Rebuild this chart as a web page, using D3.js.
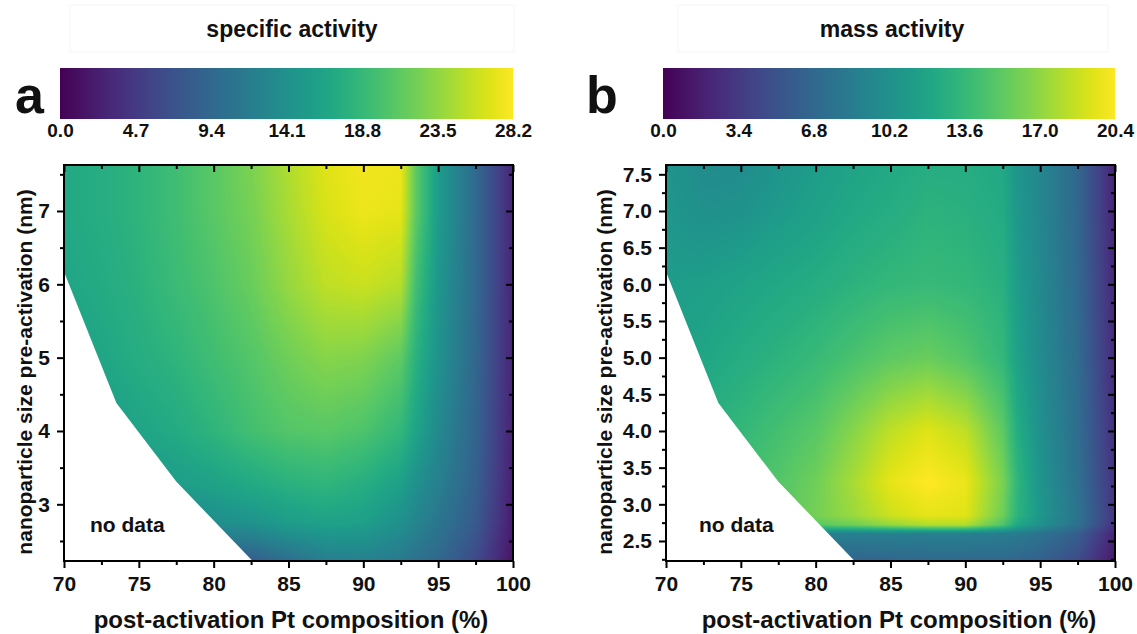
<!DOCTYPE html>
<html><head><meta charset="utf-8">
<script src="https://cdn.jsdelivr.net/npm/d3@7"></script>
<style>
body{margin:0;background:#fff;}
svg text{font-family:"Liberation Sans", Arial, sans-serif;font-weight:bold;fill:#111;}
.tick text{font-size:21px;}
.cb .tick text{font-size:19px;}
</style></head><body>
<svg id="chart" width="1137" height="634"></svg>
<script>
// ---------- data ----------
const xNodes = [70, 72.5, 75, 77.5, 80, 82.5, 85, 87.5, 90, 92.5, 93.5, 95, 97.5, 100];

const yNodesA = [2.2, 2.75, 3.25, 4, 5, 6, 7, 7.65];
const specificActivity = [
  [6.2, 6.8, 7.3, 7.9, 7.9, 7.9, 9.9, 11.8, 12.1, 11.3, 10.4, 9.3, 6.2, 1.4],
  [10.2, 11.0, 11.8, 12.7, 13.8, 14.4, 15.5, 16.1, 15.8, 14.1, 12.7, 11.0, 7.9, 2.0],
  [11.8, 13.0, 14.7, 15.5, 16.1, 16.9, 17.8, 18.3, 17.5, 15.8, 14.1, 12.1, 8.5, 2.3],
  [14.7, 15.5, 16.4, 17.2, 18.3, 19.7, 20.6, 20.9, 20.3, 18.6, 16.4, 13.3, 9.0, 2.5],
  [16.1, 16.6, 17.5, 18.3, 19.5, 20.6, 22.0, 23.1, 22.8, 21.2, 18.0, 14.4, 9.3, 2.8],
  [16.6, 17.2, 18.0, 19.2, 20.3, 21.7, 23.7, 25.4, 25.9, 25.1, 19.7, 14.9, 9.6, 2.8],
  [16.9, 17.5, 18.3, 19.5, 20.9, 22.3, 24.5, 26.5, 27.4, 27.1, 21.2, 15.5, 9.6, 2.8],
  [16.9, 17.5, 18.3, 19.5, 20.9, 22.6, 24.8, 26.8, 27.6, 27.4, 21.2, 15.5, 9.6, 2.8]
];

const yNodesB = [2.2, 2.6, 2.72, 2.85, 3.3, 4, 5, 6, 7, 7.65];
const massActivity = [
  [6.1, 6.1, 6.1, 6.1, 6.1, 6.3, 6.5, 6.7, 6.7, 6.7, 6.5, 6.1, 4.5, 1.2],
  [8.8, 8.8, 8.8, 8.8, 8.8, 8.8, 8.8, 8.8, 8.8, 8.6, 8.4, 7.7, 6.1, 2.0],
  [12.2, 12.9, 13.5, 14.3, 15.1, 15.9, 17.1, 18.0, 18.0, 14.7, 12.2, 10.2, 7.5, 2.9],
  [12.6, 13.5, 14.3, 15.1, 16.1, 17.3, 18.8, 19.6, 19.4, 15.9, 13.1, 10.8, 7.8, 3.1],
  [12.6, 13.5, 14.3, 14.9, 15.9, 17.7, 19.6, 20.4, 19.8, 16.3, 13.3, 10.6, 7.5, 2.9],
  [12.2, 12.9, 13.5, 14.3, 15.1, 16.7, 18.4, 19.4, 18.4, 15.3, 12.6, 10.2, 7.3, 2.7],
  [11.6, 12.0, 12.6, 13.1, 13.7, 14.5, 15.3, 15.7, 14.9, 13.5, 11.6, 9.8, 7.1, 2.4],
  [11.2, 11.4, 11.8, 12.2, 12.6, 13.1, 13.5, 13.7, 13.5, 12.9, 11.2, 9.6, 6.9, 2.2],
  [10.8, 10.2, 10.4, 11.0, 11.6, 12.2, 12.6, 13.1, 12.9, 12.4, 10.8, 9.4, 6.7, 2.0],
  [10.6, 9.8, 9.8, 10.6, 11.2, 11.8, 12.2, 12.6, 12.6, 12.2, 10.6, 9.4, 6.7, 2.0]
];

const noDataX = [70, 73.5, 77.5, 82.6, 82.6, 70];
const noDataY = [6.17, 4.38, 3.31, 2.227, 2.0, 2.0];

const colorbarTicksA = [0, 4.7, 9.4, 14.1, 18.8, 23.5, 28.2];
const colorbarTicksB = [0, 3.4, 6.8, 10.2, 13.6, 17.0, 20.4];
const xTicks = [70, 75, 80, 85, 90, 95, 100];
const xMinor = [72.5, 77.5, 82.5, 87.5, 92.5, 97.5];
const yTicksA = [3, 4, 5, 6, 7];
const yMinorA = [2.5, 3.5, 4.5, 5.5, 6.5, 7.5];
const yTicksB = [2.5, 3.0, 3.5, 4.0, 4.5, 5.0, 5.5, 6.0, 6.5, 7.0, 7.5];
const yMinorB = [2.25, 2.75, 3.25, 3.75, 4.25, 4.75, 5.25, 5.75, 6.25, 6.75, 7.25];

const panels = [
  {letter: "a", title: "specific activity", grid: specificActivity, yNodes: yNodesA, max: 28.2,
   cbTicks: colorbarTicksA, yTicks: yTicksA, yMinor: yMinorA, yFmt: d3.format("d"),
   x0: 64, x1: 513, cbx0: 60, cbx1: 513, letterX: 15, yTitleX: 32, xTitleX: 291, boxX0: 70, boxX1: 514, titleX: 292, noDataTX: 90},
  {letter: "b", title: "mass activity", grid: massActivity, yNodes: yNodesB, max: 20.4,
   cbTicks: colorbarTicksB, yTicks: yTicksB, yMinor: yMinorB, yFmt: d3.format(".1f"),
   x0: 666, x1: 1115, cbx0: 663, cbx1: 1115, letterX: 586, yTitleX: 612, xTitleX: 899, boxX0: 678, boxX1: 1108, titleX: 892, noDataTX: 699}
];

const Y0 = 165, Y1 = 561;
const yDomain = [2.227, 7.627];
const CB_Y0 = 68, CB_Y1 = 119;

const svg = d3.select("#chart");
const defs = svg.append("defs");

function bilinear(grid, xs, ys, xv, yv) {
  let i = Math.min(Math.max(d3.bisectRight(xs, xv) - 1, 0), xs.length - 2);
  let j = Math.min(Math.max(d3.bisectRight(ys, yv) - 1, 0), ys.length - 2);
  const tx = Math.min(Math.max((xv - xs[i]) / (xs[i + 1] - xs[i]), 0), 1);
  const ty = Math.min(Math.max((yv - ys[j]) / (ys[j + 1] - ys[j]), 0), 1);
  const a = grid[j][i], b = grid[j][i + 1], c = grid[j + 1][i], d = grid[j + 1][i + 1];
  return (a * (1 - tx) + b * tx) * (1 - ty) + (c * (1 - tx) + d * tx) * ty;
}

panels.forEach((p, k) => {
  const x = d3.scaleLinear().domain([70, 100]).range([p.x0, p.x1]);
  const y = d3.scaleLinear().domain(yDomain).range([Y1, Y0]);
  const color = d3.scaleSequential(d3.interpolateViridis).domain([0, p.max]);

  // title box + title
  svg.append("rect").attr("x", p.boxX0).attr("y", 5).attr("width", p.boxX1 - p.boxX0).attr("height", 47)
    .attr("fill", "none").attr("stroke", "#f5f5f5").attr("stroke-width", 1);
  svg.append("text").attr("x", p.titleX).attr("y", 37).attr("text-anchor", "middle")
    .style("font-size", "23px").text(p.title);

  // panel letter
  svg.append("text").attr("x", p.letterX).attr("y", 113).style("font-size", "52px").text(p.letter);

  // colorbar
  const gid = "grad" + k;
  const grad = defs.append("linearGradient").attr("id", gid).attr("x1", "0%").attr("x2", "100%");
  d3.range(0, 1.0001, 0.05).forEach(t => grad.append("stop").attr("offset", t).attr("stop-color", d3.interpolateViridis(t)));
  svg.append("rect").attr("x", p.cbx0).attr("y", CB_Y0).attr("width", p.cbx1 - p.cbx0).attr("height", CB_Y1 - CB_Y0)
    .attr("fill", `url(#${gid})`);
  const cbScale = d3.scaleLinear().domain([0, p.max]).range([p.cbx0, p.cbx1]);
  const cbAxis = svg.append("g").attr("class", "cb").attr("transform", `translate(0,${CB_Y1})`)
    .call(d3.axisBottom(cbScale).tickValues(p.cbTicks).tickSize(0).tickPadding(5).tickFormat(d3.format(".1f")));
  cbAxis.select(".domain").remove();

  // heatmap
  const w = Math.round(p.x1 - p.x0), h = Math.round(Y1 - Y0);
  const canvas = document.createElement("canvas");
  canvas.width = w; canvas.height = h;
  const ctx = canvas.getContext("2d");
  const img = ctx.createImageData(w, h);
  const lut = d3.range(1025).map(n => d3.rgb(color(n / 1024 * p.max)));
  for (let j = 0; j < h; j++) {
    const yv = y.invert(Y0 + j + 0.5);
    for (let i = 0; i < w; i++) {
      const xv = x.invert(p.x0 + i + 0.5);
      const v = bilinear(p.grid, xNodes, p.yNodes, xv, yv);
      const c = lut[Math.max(0, Math.min(1024, Math.round(v / p.max * 1024)))];
      const o = (j * w + i) * 4;
      img.data[o] = c.r; img.data[o + 1] = c.g; img.data[o + 2] = c.b; img.data[o + 3] = 255;
    }
  }
  ctx.putImageData(img, 0, 0);
  const cid = "clip" + k;
  defs.append("clipPath").attr("id", cid).append("rect").attr("x", p.x0).attr("y", Y0).attr("width", w).attr("height", h);
  const plot = svg.append("g").attr("clip-path", `url(#${cid})`);
  plot.append("image").attr("x", p.x0).attr("y", Y0).attr("width", w).attr("height", h)
    .attr("preserveAspectRatio", "none").attr("href", canvas.toDataURL());
  plot.append("path").attr("fill", "#fff")
    .attr("d", d3.line().x(d => x(d)).y((d, i) => y(noDataY[i]))(noDataX) + "Z");

  svg.append("text").attr("x", p.noDataTX).attr("y", 532).style("font-size", "21px").text("no data");

  // axes
  const styleAxis = g => { g.select(".domain").remove(); g.selectAll("line").attr("stroke", "#000").attr("stroke-width", 2); };
  svg.append("g").attr("transform", `translate(0,${Y1})`)
    .call(d3.axisBottom(x).tickValues(xTicks).tickSize(7).tickPadding(8).tickFormat(d3.format("d"))).call(styleAxis);
  svg.append("g").attr("transform", `translate(0,${Y1})`)
    .call(d3.axisBottom(x).tickValues(xMinor).tickSize(4).tickFormat("")).call(styleAxis);
  svg.append("g").attr("transform", `translate(0,${Y0})`)
    .call(d3.axisTop(x).tickValues(xTicks).tickSize(-7).tickFormat("")).call(styleAxis);
  svg.append("g").attr("transform", `translate(0,${Y0})`)
    .call(d3.axisTop(x).tickValues(xMinor).tickSize(-4).tickFormat("")).call(styleAxis);
  svg.append("g").attr("transform", `translate(${p.x0},0)`)
    .call(d3.axisLeft(y).tickValues(p.yTicks).tickSize(7).tickPadding(7).tickFormat(p.yFmt)).call(styleAxis);
  svg.append("g").attr("transform", `translate(${p.x0},0)`)
    .call(d3.axisLeft(y).tickValues(p.yMinor).tickSize(4).tickFormat("")).call(styleAxis);
  svg.append("g").attr("transform", `translate(${p.x1},0)`)
    .call(d3.axisRight(y).tickValues(p.yTicks).tickSize(-7).tickFormat("")).call(styleAxis);
  svg.append("g").attr("transform", `translate(${p.x1},0)`)
    .call(d3.axisRight(y).tickValues(p.yMinor).tickSize(-4).tickFormat("")).call(styleAxis);

  // frame
  svg.append("rect").attr("x", p.x0).attr("y", Y0).attr("width", p.x1 - p.x0).attr("height", Y1 - Y0)
    .attr("fill", "none").attr("stroke", "#000").attr("stroke-width", 2);

  // axis titles
  svg.append("text").attr("x", p.xTitleX).attr("y", 628).attr("text-anchor", "middle")
    .style("font-size", "24px").text("post-activation Pt composition (%)");
  svg.append("text").attr("transform", `translate(${p.yTitleX},${372}) rotate(-90)`).attr("text-anchor", "middle")
    .style("font-size", "21px").text("nanoparticle size pre-activation (nm)");
});
</script>
</body></html>
